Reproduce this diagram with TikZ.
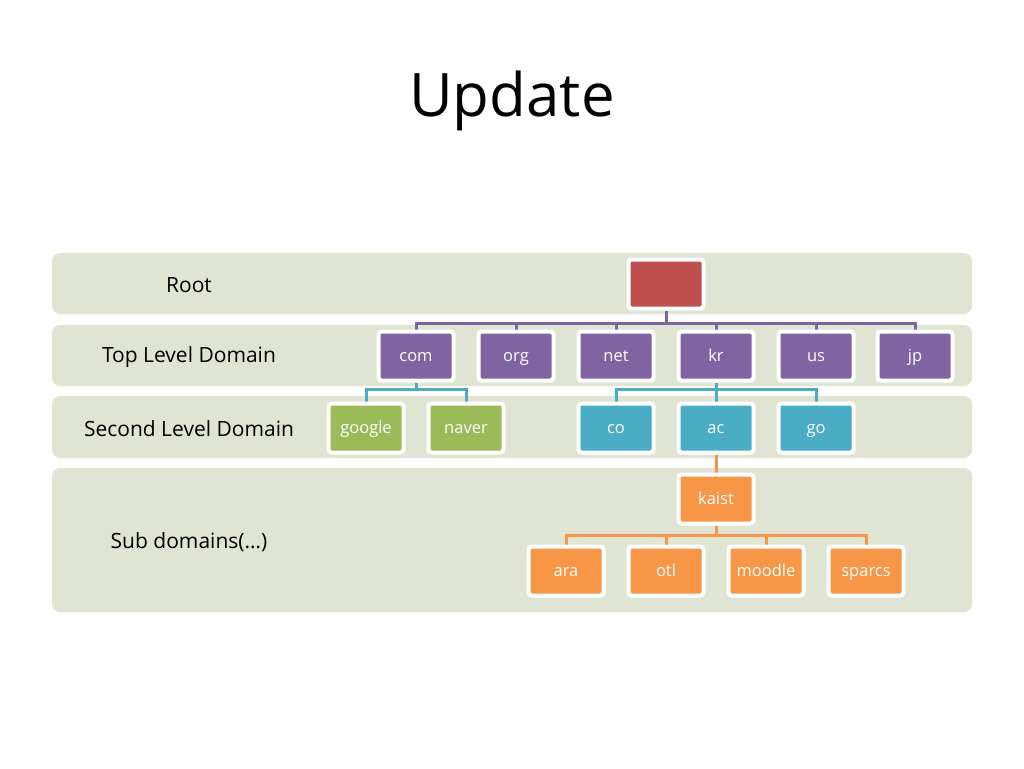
\documentclass[tikz,border=0pt]{standalone}
\usepackage{fontspec}
\setmainfont{Open Sans}
\usetikzlibrary{shadows}
\pgfdeclarelayer{background}
\pgfdeclarelayer{bands}
\pgfsetlayers{bands,background,main}
\definecolor{band}{HTML}{DFE5D2}
\definecolor{cred}{HTML}{C0504D}
\definecolor{cpurple}{HTML}{8064A2}
\definecolor{cgreen}{HTML}{9BBB59}
\definecolor{cblue}{HTML}{4BACC6}
\definecolor{corange}{HTML}{F79646}
\tikzset{
  bandbox/.style={fill=band, draw=none, rounded corners=8pt},
  bandlabel/.style={font=\fontsize{21}{25}\selectfont, text=black},
  dnode/.style={draw=white, line width=4pt, rounded corners=3pt, minimum width=75pt, minimum height=49pt,
    text=white, font=\fontsize{16.5}{19}\selectfont, inner sep=0pt, text height=11.5pt, text depth=0.5pt,
    drop shadow={opacity=0.2, shadow xshift=1pt, shadow yshift=-1.5pt}},
  rootn/.style={dnode, fill=cred},
  tldn/.style={dnode, fill=cpurple},
  sldg/.style={dnode, fill=cgreen},
  sldb/.style={dnode, fill=cblue},
  subn/.style={dnode, fill=corange},
  pl/.style={draw=cpurple, line width=3pt},
  bl/.style={draw=cblue, line width=3pt},
  ol/.style={draw=corange, line width=3pt},
}
\begin{document}
\begin{tikzpicture}[x=1pt, y=-1pt]
\useasboundingbox (0,0) rectangle (1024,768);
\begin{pgfonlayer}{bands}
\fill[white] (0,0) rectangle (1024,768);
\draw[bandbox] (52,253) rectangle (972,314);
\draw[bandbox] (52,325) rectangle (972,386);
\draw[bandbox] (52,396) rectangle (972,458);
\draw[bandbox] (52,468) rectangle (972,612);
\end{pgfonlayer}
\node[font=\fontsize{60}{68}\selectfont] (title) at (512,101) {Update};
\node[bandlabel] (lroot) at (189,285) {Root};
\node[bandlabel] (ltld) at (189,357) {Top Level Domain};
\node[bandlabel] (lsld) at (189,429) {Second Level Domain};
\node[bandlabel] (lsub) at (189,542) {Sub domains(…)};
% nodes
\node[rootn] (root) at (666,284) {};
\node[tldn] (com) at (416,356) {com};
\node[tldn] (org) at (516,356) {org};
\node[tldn] (net) at (616,356) {net};
\node[tldn] (kr) at (716,356) {kr};
\node[tldn] (us) at (816,356) {us};
\node[tldn] (jp) at (915,356) {jp};
\node[sldg] (google) at (366,428) {google};
\node[sldg] (naver) at (466,428) {naver};
\node[sldb] (co) at (616,428) {co};
\node[sldb] (ac) at (716,428) {ac};
\node[sldb] (go) at (816,428) {go};
\node[subn] (kaist) at (716,499) {kaist};
\node[subn] (ara) at (566,571) {ara};
\node[subn] (otl) at (666,571) {otl};
\node[subn] (moodle) at (766,571) {moodle};
\node[subn] (sparcs) at (866,571) {sparcs};
% connectors
\begin{pgfonlayer}{background}
\foreach \c in {com,org,net,kr,us,jp}
  \draw[pl] (root.south) -- ++(0,13) -| (\c.north);
\foreach \c in {google,naver}
  \draw[bl] (com.south) -- ++(0,7) -| (\c.north);
\foreach \c in {co,ac,go}
  \draw[bl] (kr.south) -- ++(0,7) -| (\c.north);
\draw[ol] (ac.south) -- (kaist.north);
\foreach \c in {ara,otl,moodle,sparcs}
  \draw[ol] (kaist.south) -- ++(0,10) -| (\c.north);
\end{pgfonlayer}
\end{tikzpicture}
\end{document}
